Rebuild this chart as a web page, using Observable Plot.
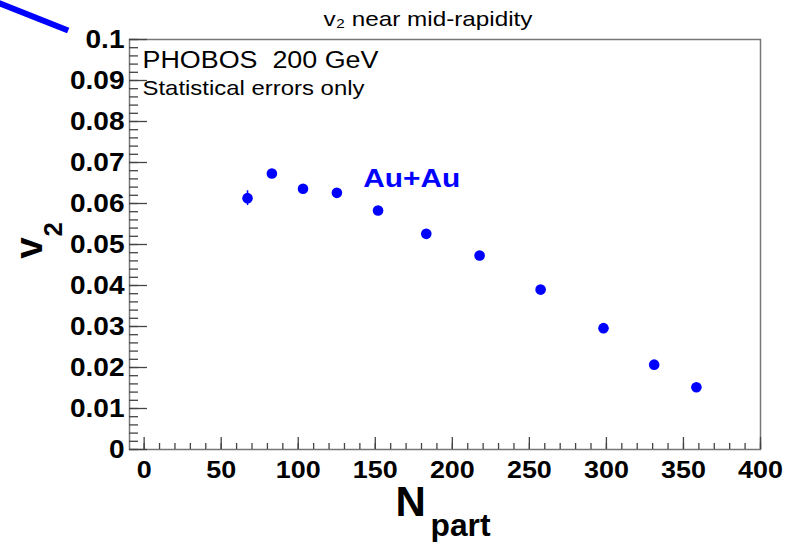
<!DOCTYPE html>
<html><head><meta charset="utf-8">
<script src="https://cdn.jsdelivr.net/npm/d3@7"></script>
<script src="https://cdn.jsdelivr.net/npm/@observablehq/plot@0.6"></script>
<style>body{margin:0;background:#fff;} svg{display:block}</style>
</head><body><div id="chart"></div>
<script>
// ---- data ----
const npart = [67.1, 82.9, 103.1, 125.1, 151.8, 183.1, 217.7, 257.3, 298.1, 331.0, 358.4];
const v2    = [0.0613, 0.0673, 0.0636, 0.0626, 0.0583, 0.0526, 0.0473, 0.0390, 0.0296, 0.0207, 0.0152];
const v2err = [0.0018, 0.0008, 0.0007, 0.0007, 0.0006, 0.0006, 0.0006, 0.0006, 0.0006, 0.0007, 0.0008];
const xTicks = [0, 50, 100, 150, 200, 250, 300, 350, 400];
const xTickLabels = ["0", "50", "100", "150", "200", "250", "300", "350", "400"];
const yTicks = [0, 0.01, 0.02, 0.03, 0.04, 0.05, 0.06, 0.07, 0.08, 0.09, 0.1];
const yTickLabels = ["0", "0.01", "0.02", "0.03", "0.04", "0.05", "0.06", "0.07", "0.08", "0.09", "0.1"];
const arrowX = [-95, -49.3];
const arrowY = [0.1090, 0.1022];
const titleText = "v₂ near mid-rapidity";
const infoLines = ["PHOBOS  200 GeV", "Statistical errors only"];
const seriesLabel = "Au+Au";
const yTitle = ["v", "2"];
const xTitle = ["N", "part"];

// ---- layout ----
const W = 799, H = 542;
const mL = 129, mR = 39, mT = 39, mB = 93;
const innerW = W - mL - mR, innerH = H - mT - mB;
const blue = "#0000ff";
const tickColor = "#444";

const pts = npart.map((x, i) => ({x, y: v2[i], e: v2err[i]}));
const arrow = arrowX.map((x, i) => ({x, y: arrowY[i]}));
const xMinor = d3.range(0, 401, 10);
const yMinor = d3.range(0, 51).map(i => i * 0.002);

const chart = Plot.plot({
  width: W, height: H,
  marginLeft: mL, marginRight: mR, marginTop: mT, marginBottom: mB,
  x: {domain: [-9.5, 400]},
  y: {domain: [0, 0.1]},
  style: {fontFamily: '"Liberation Sans", Arial, Helvetica, sans-serif', background: "#fff", color: "#000", overflow: "hidden"},
  marks: [
    Plot.frame({stroke: "#777", strokeWidth: 1.5}),
    // ticks (inward, ROOT style)
    Plot.tickY(yMinor, {y: d => d, insetRight: innerW - 9, stroke: tickColor, strokeWidth: 1.3}),
    Plot.tickY(yTicks, {y: d => d, insetRight: innerW - 18, stroke: tickColor, strokeWidth: 1.3}),
    Plot.tickX(xMinor, {x: d => d, insetTop: innerH - 6, stroke: tickColor, strokeWidth: 1.3}),
    Plot.tickX(xTicks, {x: d => d, insetTop: innerH - 12, stroke: tickColor, strokeWidth: 1.3}),
    Plot.axisY(yTicks, {tickSize: 0, tickPadding: 5, label: null, fontSize: 25.5, fontWeight: "bold",
      tickFormat: d => yTickLabels[yTicks.indexOf(d)]}),
    Plot.axisX(xTicks, {tickSize: 0, tickPadding: 12.5, label: null, fontSize: 23, fontWeight: "bold",
      tickFormat: d => xTickLabels[xTicks.indexOf(d)]}),
    // data
    Plot.ruleX(pts, {x: "x", y1: d => d.y - d.e, y2: d => d.y + d.e, stroke: blue, strokeWidth: 1.5}),
    Plot.dot(pts, {x: "x", y: "y", r: 5.3, fill: blue, stroke: null}),
    // decorative arrow stub at top-left
    Plot.line(arrow, {x: "x", y: "y", stroke: blue, strokeWidth: 6, strokeLinecap: "butt"}),
    // texts
    Plot.text([titleText], {frameAnchor: "top-left", dx: 194, dy: -14, lineAnchor: "bottom", textAnchor: "start", fontSize: 21, fill: "#000"}),
    Plot.text([infoLines[0]], {frameAnchor: "top-left", dx: 13, dy: 28, lineAnchor: "bottom", textAnchor: "start", fontSize: 23, fill: "#000"}),
    Plot.text([infoLines[1]], {frameAnchor: "top-left", dx: 13, dy: 55.7, lineAnchor: "bottom", textAnchor: "start", fontSize: 21, fill: "#000"}),
    Plot.text([seriesLabel], {frameAnchor: "top-left", dx: 233.7, dy: 147, lineAnchor: "bottom", textAnchor: "start", fontSize: 25, fontWeight: "bold", fill: blue}),
    Plot.text([yTitle[0]], {frameAnchor: "top-left", dx: -87.3, dy: 219.3, rotate: -90, lineAnchor: "bottom", textAnchor: "start", fontSize: 38.5, fontWeight: "bold", fill: "#000"}),
    Plot.text([yTitle[1]], {frameAnchor: "top-left", dx: -67.3, dy: 197, rotate: -90, lineAnchor: "bottom", textAnchor: "start", fontSize: 25.7, fontWeight: "bold", fill: "#000"}),
    Plot.text([xTitle[0]], {frameAnchor: "top-left", dx: 266, dy: 476, lineAnchor: "bottom", textAnchor: "start", fontSize: 42, fontWeight: "bold", fill: "#000"}),
    Plot.text([xTitle[1]], {frameAnchor: "top-left", dx: 301, dy: 496, lineAnchor: "bottom", textAnchor: "start", fontSize: 32, fontWeight: "bold", fill: "#000"})
  ]
});
document.getElementById("chart").append(chart);

// horizontal stretch of text to match the (horizontally stretched) reference rendering
const fixedWidths = new Map([[titleText, 209], [infoLines[0], 236], [infoLines[1], 222], [seriesLabel, 97], [xTitle[1], 60]]);
chart.querySelectorAll("text").forEach(t => {
  const s = t.textContent;
  const g = t.closest("g[aria-label]");
  const lab = g ? g.getAttribute("aria-label") : "";
  let target = null;
  if (fixedWidths.has(s)) target = fixedWidths.get(s);
  else if (lab.includes("y-axis")) target = t.getComputedTextLength() * 1.1;
  else if (lab.includes("x-axis")) target = t.getComputedTextLength() * 1.17;
  if (target) {
    t.setAttribute("textLength", target);
    t.setAttribute("lengthAdjust", "spacingAndGlyphs");
  }
});
</script>
</body></html>
